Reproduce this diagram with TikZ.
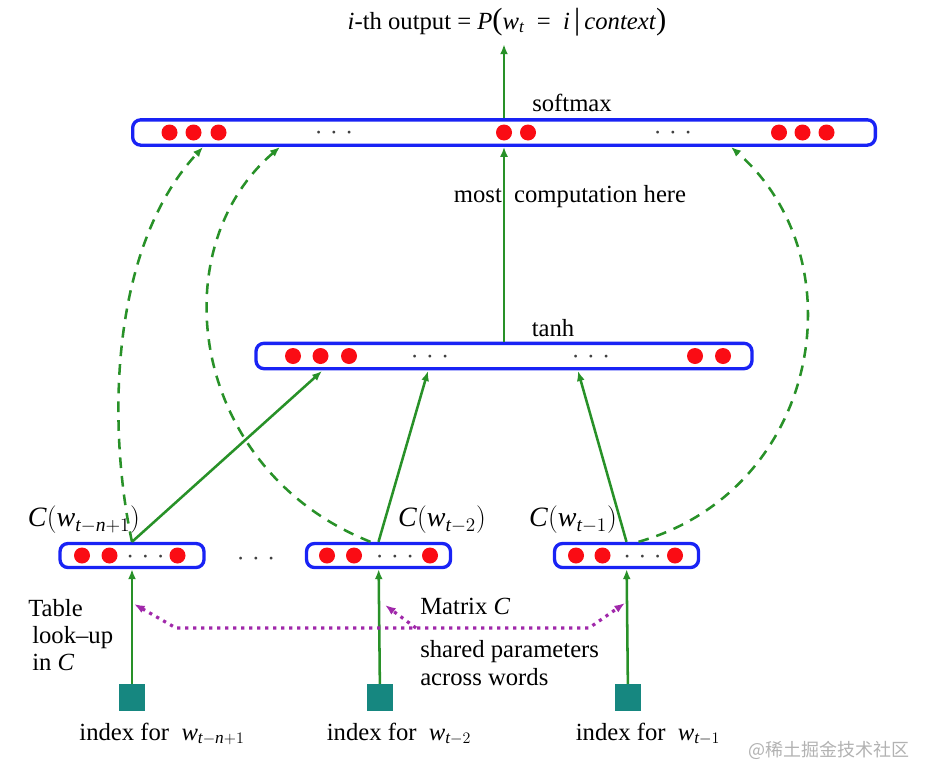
\documentclass[tikz,border=0pt]{standalone}
\usepackage{amsmath}
\usepackage{fontspec}
\setmainfont{Liberation Serif}
\newfontfamily\cjk{Noto Sans CJK SC}
\usetikzlibrary{arrows.meta}

\definecolor{barblue}{RGB}{25,35,245}
\definecolor{unitred}{RGB}{250,12,20}
\definecolor{fwdgreen}{RGB}{40,145,40}
\definecolor{idxteal}{RGB}{22,135,128}
\definecolor{sharepurple}{RGB}{160,40,170}

\newcommand{\iv}[1]{\textit{#1}}
\newcommand{\bigp}[1]{{\fontsize{23}{23}\selectfont #1}}

\tikzset{
  bar/.style={draw=barblue, line width=2.5pt, rounded corners=6pt, inner sep=0pt, minimum height=19pt},
  unit/.style={circle, fill=unitred, inner sep=0pt, minimum size=12pt},
  dotsnode/.style={text=black!75, inner sep=0pt, anchor=base, yshift=-5pt, font=\fontsize{20}{22}\selectfont},
  idx/.style={fill=idxteal, inner sep=0pt, minimum size=20pt},
  fwd/.style={fwdgreen, line width=1.9pt, -{Latex[length=7.5pt,width=6pt]}},
  skip/.style={fwd, dash pattern=on 8pt off 6pt},
  share/.style={sharepurple, line width=2.4pt, dash pattern=on 2.4pt off 3.6pt, {Latex[length=8pt,width=6pt]}-{Latex[length=8pt,width=6pt]}},
  shareone/.style={sharepurple, line width=2.4pt, dash pattern=on 2.4pt off 3.6pt, -{Latex[length=8pt,width=6pt]}},
  lbl/.style={inner sep=0pt, font=\fontsize{18.5}{20.5}\selectfont},
  mathlbl/.style={inner sep=0pt, font=\fontsize{21}{23}\selectfont},
}

\begin{document}
\begin{tikzpicture}[x=0.75pt, y=-0.75pt]
\useasboundingbox (0,0) rectangle (932,782);
% layers
\node[bar, minimum width=557pt] (soft) at (504,132.5) {};
\node[bar, minimum width=372pt] (tanh) at (504,356) {};
\node[bar, minimum width=108pt, minimum height=18pt] (emb1) at (132,555.5) {};
\node[bar, minimum width=108pt, minimum height=18pt] (emb2) at (378.5,555.5) {};
\node[bar, minimum width=108pt, minimum height=18pt] (emb3) at (626.5,555.5) {};
% units
\node[unit] (s1) at (169.5,132.5) {};
\node[unit] (s2) at (193.5,132.5) {};
\node[unit] (s3) at (218.5,132.5) {};
\node[unit] (s4) at (504,132.5) {};
\node[unit] (s5) at (528,132.5) {};
\node[unit] (s6) at (779,132.5) {};
\node[unit] (s7) at (802.5,132.5) {};
\node[unit] (s8) at (826.5,132.5) {};
\node[unit] (t1) at (293,356) {};
\node[unit] (t2) at (320.5,356) {};
\node[unit] (t3) at (349,356) {};
\node[unit] (t4) at (695,356) {};
\node[unit] (t5) at (723,356) {};
\node[unit] (e11) at (82,555.5) {};
\node[unit] (e12) at (109.5,555.5) {};
\node[unit] (e13) at (177.5,555.5) {};
\node[unit] (e21) at (327,555.5) {};
\node[unit] (e22) at (354,555.5) {};
\node[unit] (e23) at (430,555.5) {};
\node[unit] (e31) at (576,555.5) {};
\node[unit] (e32) at (602.5,555.5) {};
\node[unit] (e33) at (675,555.5) {};
% ellipses
\node[dotsnode] (sd1) at (334,132.5) {${\cdot}\;{\cdot}\;{\cdot}$};
\node[dotsnode] (sd2) at (673,132.5) {${\cdot}\;{\cdot}\;{\cdot}$};
\node[dotsnode] (td1) at (430,357) {${\cdot}\;{\cdot}\;{\cdot}$};
\node[dotsnode] (td2) at (591,357) {${\cdot}\;{\cdot}\;{\cdot}$};
\node[dotsnode] (ed1) at (145.5,557) {${\cdot}\;{\cdot}\;{\cdot}$};
\node[dotsnode] (ed2) at (395,557) {${\cdot}\;{\cdot}\;{\cdot}$};
\node[dotsnode] (ed3) at (642.5,557) {${\cdot}\;{\cdot}\;{\cdot}$};
\node[dotsnode] (gap) at (256,559) {${\cdot}\;{\cdot}\;{\cdot}$};
% word indices
\node[idx] (idx1) at (132,697.5) {};
\node[idx] (idx2) at (380,697.5) {};
\node[idx] (idx3) at (628,697.5) {};
% texts
\node[lbl] (title) at (507,22) {\iv{i}-th output = \iv{P}\bigp{(}\iv{w}$_{\iv{t}}$ \ = \ \iv{i}\,\bigp{|}\,\iv{context}\bigp{)}};
\node[lbl] (softlbl) at (572,103) {softmax};
\node[lbl] (tanhlbl) at (553,328) {tanh};
\node[lbl] (most) at (570,197) {most\ \ computation here};
\node[mathlbl] (cw1) at (84,520) {\iv{C}$($\iv{w}$_{\iv{t}-\iv{n}+1})$};
\node[mathlbl] (cw2) at (442,520) {\iv{C}$($\iv{w}$_{\iv{t}-2})$};
\node[mathlbl] (cw3) at (573,520) {\iv{C}$($\iv{w}$_{\iv{t}-1})$};
\node[lbl, align=left, anchor=west] (lookup) at (28,635) {Table\\\hspace*{3pt}look--up\\\hspace*{3pt}in \iv{C}};
\node[lbl, anchor=west] (matrix) at (420,606) {Matrix \iv{C}};
\node[lbl, align=left, anchor=west] (shared) at (420,663) {shared parameters\\across words};
\node[lbl] (ix1) at (162,734) {index for \ \iv{w}$_{\iv{t}-\iv{n}+1}$};
\node[lbl] (ix2) at (399,734) {index for \ \iv{w}$_{\iv{t}-2}$};
\node[lbl] (ix3) at (648,734) {index for \ \iv{w}$_{\iv{t}-1}$};
\node[text=black!30, inner sep=0pt, font=\cjk\fontsize{13.5}{15}\selectfont] (mark) at (829,750) {@稀土掘金技术社区};
% free ends
\coordinate (tin1) at (322,371);
\coordinate (tin2) at (428,371);
\coordinate (tin3) at (578,371);
\coordinate (sin1) at (203,147);
\coordinate (sin2) at (280,147);
\coordinate (sin3) at (731,147);
\coordinate (look1) at (134,604);
\coordinate (look2) at (385,605);
\coordinate (look3) at (625,603);
\coordinate (share-l) at (176,628);
\coordinate (share-m) at (416,628);
\coordinate (share-r) at (589,628);
% connectors
\draw[fwd, shorten >=6pt] (soft.north) -- (soft.north |- title.south);
\draw[fwd] (tanh.north) -- (soft.south);
\draw[fwd] (emb1.north) -- (tin1);
\draw[fwd] (emb2.north) -- (tin2);
\draw[fwd] (emb3.north) -- (tin3);
\draw[fwd] (idx1) -- (emb1);
\draw[fwd] (idx2) -- (emb2);
\draw[fwd] (idx3) -- (emb3);
\draw[skip] (emb1.north) .. controls (108,430) and (108,250) .. (sin1);
\draw[skip] ([xshift=-6pt]emb2.north) .. controls (190,470) and (160,250) .. (sin2);
\draw[skip] ([xshift=9pt]emb3.north) .. controls (820,490) and (860,260) .. (sin3);
\draw[share] (look1) -- (share-l) -- (share-r) -- (look3);
\draw[shareone] (share-m) -- (look2);
\end{tikzpicture}
\end{document}
